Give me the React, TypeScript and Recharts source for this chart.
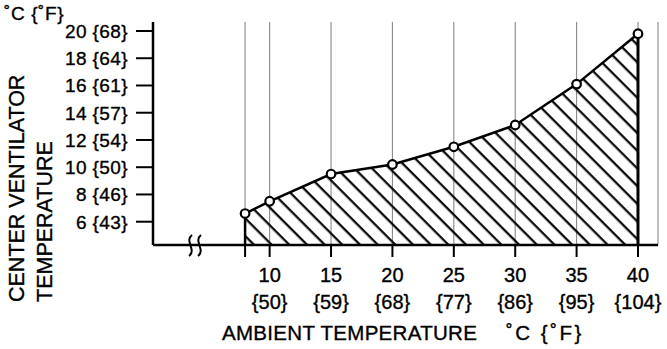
import React from 'react';
import {
  ComposedChart,
  Area,
  XAxis,
  YAxis,
  CartesianGrid,
  ReferenceLine,
  Customized,
} from 'recharts';

// ambient temperature (°C) and the matching center ventilator temperature (°C)
const ambientC = [8, 10, 15, 20, 25, 30, 35, 40];
const ventilatorC = [6.6, 7.5, 9.5, 10.2, 11.5, 13.1, 16.1, 19.8];

const xTicks = [8, 10, 15, 20, 25, 30, 35, 40];
const xTickF = ['', '{50}', '{59}', '{68}', '{77}', '{86}', '{95}', '{104}'];
const yTicks = [6, 8, 10, 12, 14, 16, 18, 20];
const yTickF = ['{43}', '{46}', '{50}', '{54}', '{57}', '{61}', '{64}', '{68}'];

const X_DOMAIN: [number, number] = [0.5, 41.63];
const Y_DOMAIN: [number, number] = [4.29, 20.66];

const FONT = '"Liberation Sans", Arial, Helvetica, sans-serif';
const INK = { fill: '#000', stroke: '#000', strokeWidth: 0.35 };

const data = ambientC.map((x, i) => ({ x, temp: ventilatorC[i] }));

const XTick = (props: any) => {
  const { x, y, payload } = props;
  const i = xTicks.indexOf(payload.value);
  if (i <= 0) return null;
  return (
    <g fontFamily={FONT} fontSize={20} {...INK}>
      <text x={x} y={y + 23} textAnchor="middle">{String(payload.value)}</text>
      <text x={x} y={y + 50} textAnchor="middle">{xTickF[i]}</text>
    </g>
  );
};

const YTick = (props: any) => {
  const { x, y, payload } = props;
  const i = yTicks.indexOf(payload.value);
  return (
    <text x={x - 6} y={y + 7} textAnchor="end" fontFamily={FONT} fontSize={19} letterSpacing={0.4} {...INK}>
      {`${payload.value} ${yTickF[i]}`}
    </text>
  );
};

const Dot = (props: any) => {
  const { cx, cy } = props;
  if (cx == null || cy == null) return null;
  return <circle cx={cx} cy={cy} r={4.3} fill="#fff" stroke="#000" strokeWidth={2.2} />;
};

// axis titles and the axis-break mark
const Decorations = () => (
  <g fontFamily={FONT} {...INK}>
    <text x={4} y={20} fontSize={19} letterSpacing={0.6}>˚C {'{'}˚F{'}'}</text>
    <text transform="translate(24,302) rotate(-90)" fontSize={21.5}>CENTER VENTILATOR</text>
    <text transform="translate(52,302) rotate(-90)" fontSize={21.5}>TEMPERATURE</text>
    <text x={222} y={340} fontSize={20.5} letterSpacing={0.3}>AMBIENT TEMPERATURE</text>
    <text x={506} y={340} fontSize={20.5} letterSpacing={2.5}>˚C {'{'}˚F{'}'}</text>
    <g fill="none" stroke="#000" strokeWidth={2}>
      <path d="M192,235 C184,241 197,250 189,256" />
      <path d="M201,235 C193,241 206,250 198,256" />
    </g>
  </g>
);

export default function App() {
  const last = ventilatorC.length - 1;
  return (
    <div style={{ position: 'absolute', left: 0, top: 0, width: 667, height: 349, background: '#fff' }}>
      <ComposedChart
        width={667}
        height={349}
        data={data}
        margin={{ top: 22, right: 9, bottom: 0, left: 0 }}
      >
        <defs>
          <pattern id="hatch" patternUnits="userSpaceOnUse" width={12.5} height={12.5} patternTransform="rotate(45)">
            <line x1={0} y1={6} x2={12.5} y2={6} stroke="#000" strokeWidth={2.2} />
          </pattern>
        </defs>
        <CartesianGrid horizontal={false} vertical stroke="#888" strokeWidth={1.1} />
        <XAxis
          type="number"
          dataKey="x"
          domain={X_DOMAIN}
          ticks={xTicks}
          allowDataOverflow
          height={104}
          tickSize={12}
          tickLine={{ stroke: '#000', strokeWidth: 2 }}
          axisLine={{ stroke: '#000', strokeWidth: 2.5 }}
          tick={<XTick />}
          interval={0}
        />
        <YAxis
          type="number"
          domain={Y_DOMAIN}
          ticks={yTicks}
          allowDataOverflow
          width={153}
          tickSize={17}
          tickLine={{ stroke: '#000', strokeWidth: 2 }}
          axisLine={{ stroke: '#000', strokeWidth: 2.5 }}
          tick={<YTick />}
          interval={0}
        />
        <Area
          type="linear"
          dataKey="temp"
          fill="url(#hatch)"
          fillOpacity={1}
          stroke="#000"
          strokeWidth={2.5}
          dot={<Dot />}
          activeDot={false}
          isAnimationActive={false}
        />
        <ReferenceLine
          segment={[{ x: ambientC[0], y: Y_DOMAIN[0] }, { x: ambientC[0], y: ventilatorC[0] }]}
          stroke="#000"
          strokeWidth={2.5}
        />
        <ReferenceLine
          segment={[{ x: ambientC[last], y: Y_DOMAIN[0] }, { x: ambientC[last], y: ventilatorC[last] }]}
          stroke="#000"
          strokeWidth={3}
        />
        <Customized component={Decorations} />
      </ComposedChart>
    </div>
  );
}
